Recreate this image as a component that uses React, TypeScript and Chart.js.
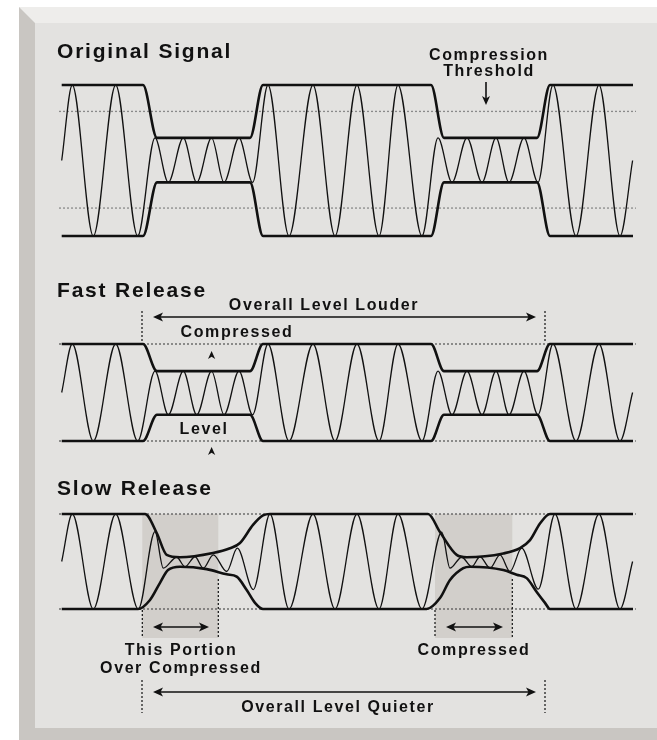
import React, { useEffect, useRef } from "react";
import { Chart, registerables } from "chart.js";

Chart.register(...registerables);

const W = 657;
const H = 740;

// ---------------- data (time in picture units, amplitude relative to full level) ----------------
const waveTime = [
  61.7, 72.3, 93.3, 115.7, 137.7,
  155, 168.3, 183.3, 196.7, 211.6, 224, 239, 252.6,
  268, 289, 313, 335, 357, 379, 398, 422,
  438, 452, 467, 482, 496, 509, 524, 538,
  553, 576, 599, 620, 632.6,
];
const originalWave = [
  0, 1, -1, 1, -1,
  0.3, -0.29, 0.3, -0.29, 0.3, -0.29, 0.3, -0.29,
  1, -1, 1, -1, 1, -1, 1, -1,
  0.3, -0.29, 0.3, -0.29, 0.3, -0.29, 0.3, -0.29,
  1, -1, 1, -1, 0,
];
const fastWave = [
  0, 1, -1, 1, -1,
  0.44, -0.46, 0.44, -0.46, 0.44, -0.46, 0.44, -0.46,
  1, -1, 1, -1, 1, -1, 1, -1,
  0.44, -0.46, 0.44, -0.46, 0.44, -0.46, 0.44, -0.46,
  1, -1, 1, -1, 0,
];
const slowWaveTime = [
  61.7, 72.3, 93.3, 115.7, 138.3,
  155, 163.3, 176.7, 185, 195, 203.3, 213.3, 226.7, 237.3, 253.3,
  270, 289, 313, 335, 357, 379, 398, 422,
  441.7, 450, 461.7, 471.7, 480, 490, 500, 510, 521.7, 538.3,
  555, 576, 599, 620, 632.6,
];
const slowWave = [
  0, 1, -1, 1, -1,
  0.63, -0.14, 0.09, -0.11, 0.1, -0.14, 0.14, -0.21, 0.28, -0.59,
  1, -1, 1, -1, 1, -1, 1, -1,
  0.62, -0.14, 0.09, -0.11, 0.1, -0.14, 0.14, -0.21, 0.28, -0.58,
  1, -1, 1, -1, 0,
];

const envTime = [61.7, 143, 157, 250, 263, 431, 444, 537, 550, 633];
const originalUpper = [1, 1, 0.3, 0.3, 1, 1, 0.3, 0.3, 1, 1];
const originalLower = [-1, -1, -0.29, -0.29, -1, -1, -0.29, -0.29, -1, -1];
const fastUpper = [1, 1, 0.44, 0.44, 1, 1, 0.44, 0.44, 1, 1];
const fastLower = [-1, -1, -0.46, -0.46, -1, -1, -0.46, -0.46, -1, -1];

const slowUpperTime = [61.7, 145, 156.7, 166.7, 180, 213, 230, 240, 253, 263, 270, 428, 440, 456.7, 466.7, 503.3, 520, 530, 540, 550, 633];
const slowUpper = [1, 1, 0.6, 0.14, 0.09, 0.18, 0.28, 0.39, 0.77, 0.97, 1, 1, 0.62, 0.14, 0.09, 0.17, 0.28, 0.45, 0.8, 1, 1];
const slowLowerTime = [61.7, 138, 150, 160, 168, 180, 206.7, 226.7, 236.7, 246.7, 255, 263, 426.7, 440, 450, 463.3, 470, 503.3, 516.7, 526.7, 536.7, 545, 550, 633];
const slowLower = [-1, -1, -0.81, -0.45, -0.18, -0.11, -0.16, -0.27, -0.32, -0.6, -0.87, -1, -1, -0.77, -0.39, -0.14, -0.11, -0.18, -0.28, -0.35, -0.64, -0.87, -1, -1];

const thresholdLevels = [0.65, -0.63];
const fullLevels = [1, -1];
const overCompressedSpans = [
  [142.3, 218.3],
  [435, 512.3],
];

const sectionTitles = ["Original Signal", "Fast Release", "Slow Release"];
const thresholdLabel = ["Compression", "Threshold"];
const fastLabels = ["Overall Level Louder", "Compressed", "Level"];
const slowLabels = ["This Portion", "Over Compressed", "Compressed", "Overall Level Quieter"];

// ---------------- layout (pixels) ----------------
const SECTIONS = {
  orig: { top: 85, bottom: 236 },
  fast: { top: 344, bottom: 441 },
  slow: { top: 514, bottom: 609 },
};
const DOT_RANGE = [59, 636];

function axisFor(top: number, bottom: number) {
  const range = (2 * H) / (bottom - top);
  const max = 1 + (top * range) / H;
  return { type: "linear", display: false, min: max - range, max };
}

const INK = "#111111";
const FONT = '"Liberation Sans", Arial, Helvetica, sans-serif';

function setFont(ctx: CanvasRenderingContext2D, size: number, spacing: number) {
  ctx.font = `bold ${size}px ${FONT}`;
  (ctx as any).letterSpacing = `${spacing}px`;
}

function headH(ctx: CanvasRenderingContext2D, x: number, y: number, dir: number) {
  ctx.beginPath();
  ctx.moveTo(x, y);
  ctx.lineTo(x - dir * 10, y - 4.5);
  ctx.lineTo(x - dir * 7.5, y);
  ctx.lineTo(x - dir * 10, y + 4.5);
  ctx.closePath();
  ctx.fill();
}

function headV(ctx: CanvasRenderingContext2D, x: number, y: number, dir: number, len = 8, half = 3.6) {
  ctx.beginPath();
  ctx.moveTo(x, y);
  ctx.lineTo(x - half, y - dir * len);
  ctx.lineTo(x, y - dir * len * 0.72);
  ctx.lineTo(x + half, y - dir * len);
  ctx.closePath();
  ctx.fill();
}

function doubleArrow(ctx: CanvasRenderingContext2D, x1: number, x2: number, y: number) {
  ctx.beginPath();
  ctx.lineWidth = 1.6;
  ctx.moveTo(x1 + 4, y);
  ctx.lineTo(x2 - 4, y);
  ctx.stroke();
  headH(ctx, x1, y, -1);
  headH(ctx, x2, y, 1);
}

function dashedV(ctx: CanvasRenderingContext2D, x: number, y1: number, y2: number) {
  ctx.save();
  ctx.setLineDash([2, 2]);
  ctx.lineWidth = 1.2;
  ctx.strokeStyle = INK;
  ctx.beginPath();
  ctx.moveTo(x, y1);
  ctx.lineTo(x, y2);
  ctx.stroke();
  ctx.restore();
}

const illustrationPlugin = {
  id: "illustration",
  beforeDatasetsDraw(chart: any) {
    const ctx: CanvasRenderingContext2D = chart.ctx;
    const xs = chart.scales.x;
    const ys = chart.scales.ySlow;
    ctx.save();
    ctx.fillStyle = "#ffffff";
    ctx.fillRect(0, 0, W, H);
    ctx.fillStyle = "#c9c6c2";
    ctx.fillRect(19, 7, W - 19, H - 7);
    ctx.fillStyle = "#eeedeb";
    ctx.beginPath();
    ctx.moveTo(19, 7);
    ctx.lineTo(W, 7);
    ctx.lineTo(W, 23);
    ctx.lineTo(35, 23);
    ctx.closePath();
    ctx.fill();
    ctx.fillStyle = "#e3e2e0";
    ctx.fillRect(35, 23, W - 35, 728 - 23);
    ctx.fillStyle = "#d2cfcb";
    const shadeTop = ys.getPixelForValue(1);
    overCompressedSpans.forEach(([a, b]) => {
      const x1 = xs.getPixelForValue(a);
      const x2 = xs.getPixelForValue(b);
      ctx.fillRect(x1, shadeTop, x2 - x1, 638 - shadeTop);
    });
    ctx.restore();
  },
  afterDatasetsDraw(chart: any) {
    const ctx: CanvasRenderingContext2D = chart.ctx;
    const xs = chart.scales.x;
    ctx.save();
    ctx.fillStyle = INK;
    ctx.strokeStyle = INK;
    ctx.textBaseline = "alphabetic";

    setFont(ctx, 21, 1.8);
    ctx.textAlign = "left";
    ctx.fillText(sectionTitles[0], 57, 57.5);
    ctx.fillText(sectionTitles[1], 57, 297);
    ctx.fillText(sectionTitles[2], 57, 495);

    setFont(ctx, 16, 1.6);
    ctx.textAlign = "center";
    ctx.fillText(thresholdLabel[0], 489, 59.5);
    ctx.fillText(thresholdLabel[1], 489, 75.5);
    ctx.lineWidth = 1.6;
    ctx.beginPath();
    ctx.moveTo(486, 82);
    ctx.lineTo(486, 99);
    ctx.stroke();
    headV(ctx, 486, 105, 1, 9, 4);

    ctx.fillText(fastLabels[0], 324, 310);
    doubleArrow(ctx, xs.getPixelForValue(153), xs.getPixelForValue(536), 317);
    dashedV(ctx, xs.getPixelForValue(142), 311, 343);
    dashedV(ctx, xs.getPixelForValue(545), 311, 343);
    ctx.fillText(fastLabels[1], 237, 337);
    headV(ctx, 211.6, 351, -1, 8, 3.6);
    ctx.fillText(fastLabels[2], 204, 434);
    headV(ctx, 211.6, 447, -1, 8, 3.6);

    const sp = overCompressedSpans;
    dashedV(ctx, xs.getPixelForValue(sp[0][0]), 610, 638);
    dashedV(ctx, xs.getPixelForValue(sp[0][1]), 579, 638);
    dashedV(ctx, xs.getPixelForValue(sp[1][0]), 610, 638);
    dashedV(ctx, xs.getPixelForValue(sp[1][1]), 579, 638);
    doubleArrow(ctx, xs.getPixelForValue(153), xs.getPixelForValue(209), 627);
    doubleArrow(ctx, xs.getPixelForValue(446), xs.getPixelForValue(503), 627);
    ctx.fillText(slowLabels[0], 181, 655);
    ctx.fillText(slowLabels[1], 181, 673);
    ctx.fillText(slowLabels[2], 474, 655);
    doubleArrow(ctx, xs.getPixelForValue(153), xs.getPixelForValue(536), 692);
    dashedV(ctx, xs.getPixelForValue(142), 680, 713);
    dashedV(ctx, xs.getPixelForValue(545), 680, 713);
    ctx.fillText(slowLabels[3], 338, 712);

    ctx.restore();
  },
};

function series(label: string, xs: number[], ys: number[], axis: string, width: number, order: number, dash: number[] = [], color = INK) {
  return {
    label,
    data: xs.map((x, i) => ({ x, y: ys[i] })),
    yAxisID: axis,
    borderColor: color,
    borderWidth: width,
    borderDash: dash,
    pointRadius: 0,
    cubicInterpolationMode: dash.length ? "default" : "monotone",
    tension: 0,
    fill: false,
    order,
    clip: false,
  };
}

export default function App() {
  const ref = useRef<HTMLCanvasElement | null>(null);

  useEffect(() => {
    if (!ref.current) return;
    const dotX = DOT_RANGE;
    const datasets: any[] = [
      series("orig threshold +", dotX, [thresholdLevels[0], thresholdLevels[0]], "yOrig", 1.3, 10, [2, 2], "#8a8a8a"),
      series("orig threshold -", dotX, [thresholdLevels[1], thresholdLevels[1]], "yOrig", 1.3, 10, [2, 2], "#8a8a8a"),
      series("fast full +", dotX, [fullLevels[0], fullLevels[0]], "yFast", 1.1, 10, [2, 2], "#444"),
      series("fast full -", dotX, [fullLevels[1], fullLevels[1]], "yFast", 1.1, 10, [2, 2], "#444"),
      series("slow full +", dotX, [fullLevels[0], fullLevels[0]], "ySlow", 1.1, 10, [2, 2], "#444"),
      series("slow full -", dotX, [fullLevels[1], fullLevels[1]], "ySlow", 1.1, 10, [2, 2], "#444"),
      series("Original Signal", waveTime, originalWave, "yOrig", 1.3, 5),
      series("Fast Release", waveTime, fastWave, "yFast", 1.3, 5),
      series("Slow Release", slowWaveTime, slowWave, "ySlow", 1.3, 5),
      series("orig env +", envTime, originalUpper, "yOrig", 2.6, 1),
      series("orig env -", envTime, originalLower, "yOrig", 2.6, 1),
      series("fast env +", envTime, fastUpper, "yFast", 2.6, 1),
      series("fast env -", envTime, fastLower, "yFast", 2.6, 1),
      series("slow env +", slowUpperTime, slowUpper, "ySlow", 2.6, 1),
      series("slow env -", slowLowerTime, slowLower, "ySlow", 2.6, 1),
    ];
    const chart = new Chart(ref.current, {
      type: "line",
      data: { datasets },
      options: {
        animation: false,
        responsive: false,
        devicePixelRatio: 1,
        events: [],
        layout: { padding: 0 },
        plugins: { legend: { display: false }, tooltip: { enabled: false }, title: { display: false } },
        scales: {
          x: { type: "linear", display: false, min: 0, max: W },
          yOrig: axisFor(SECTIONS.orig.top, SECTIONS.orig.bottom),
          yFast: axisFor(SECTIONS.fast.top, SECTIONS.fast.bottom),
          ySlow: axisFor(SECTIONS.slow.top, SECTIONS.slow.bottom),
        } as any,
      },
      plugins: [illustrationPlugin],
    } as any);
    return () => chart.destroy();
  }, []);

  return (
    <div style={{ position: "absolute", left: 0, top: 0, width: W, height: H }}>
      <canvas ref={ref} width={W} height={H} style={{ display: "block", width: W, height: H }} />
    </div>
  );
}
